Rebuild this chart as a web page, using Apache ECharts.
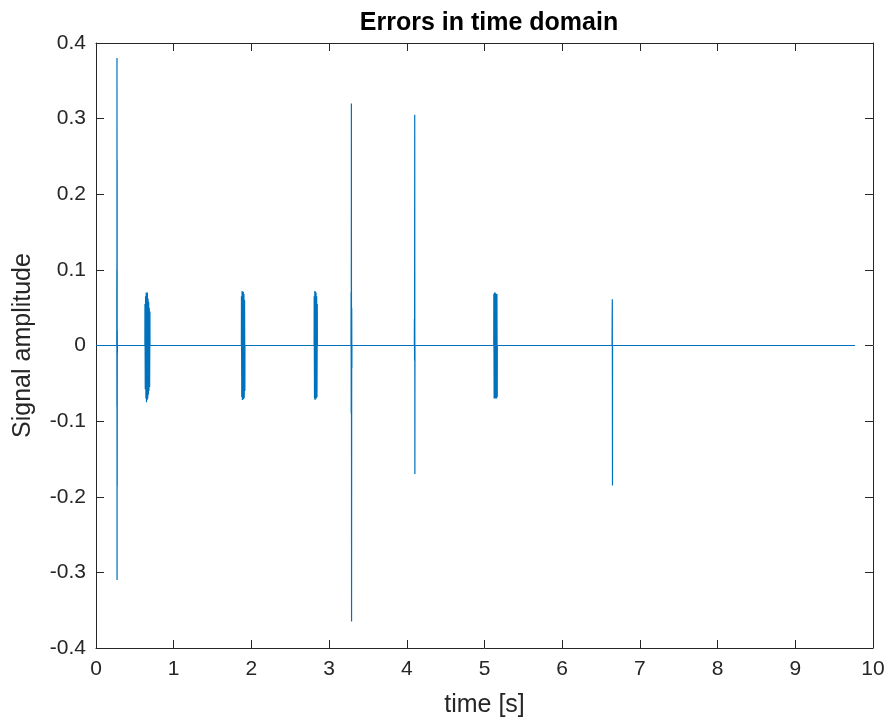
<!DOCTYPE html>
<html style="height: 100%">
   <head>
       <meta charset="utf-8">
   </head>
   <body style="height: 100%; margin: 0; background: #fff">
       <div id="container" style="width:889px;height:725px;"></div>
       <script src="https://cdn.jsdelivr.net/npm/echarts@6/dist/echarts.min.js"></script>
       <script type="text/javascript">
// error events: time [s] and amplitude
var spike1T = [0.268, 0.269, 0.270, 0.271, 0.272, 0.273, 0.274, 0.275];
var spike1A = [0.10, -0.08, 0.38, -0.31, 0.245, -0.185, 0.02, -0.01];

var burst1T = [0.630, 0.634, 0.638, 0.642, 0.646, 0.650, 0.654, 0.658, 0.662, 0.666, 0.670, 0.674, 0.678, 0.682, 0.686, 0.690, 0.694];
var burst1A = [0.055, -0.058, 0.065, -0.07, 0.07, -0.075, 0.068, -0.072, 0.07, -0.07, 0.062, -0.065, 0.058, -0.06, 0.05, -0.055, 0.045];

var burst2T = [1.872, 1.876, 1.880, 1.884, 1.888, 1.892, 1.896, 1.900, 1.904, 1.908, 1.912, 1.916];
var burst2A = [0.065, -0.068, 0.072, -0.072, 0.07, -0.07, 0.071, -0.071, 0.068, -0.069, 0.06, -0.06];

var burst3T = [2.808, 2.812, 2.816, 2.820, 2.824, 2.828, 2.832, 2.836, 2.840, 2.844, 2.848];
var burst3A = [0.065, -0.07, 0.072, -0.072, 0.071, -0.07, 0.07, -0.07, 0.065, -0.068, 0.055];

var spike2T = [3.283, 3.285, 3.287, 3.289, 3.291, 3.293];
var spike2A = [0.07, -0.09, 0.32, -0.365, 0.05, -0.03];

var spike3T = [4.098, 4.100, 4.102, 4.104];
var spike3A = [0.035, -0.02, 0.305, -0.17];

var burst4T = [5.120, 5.124, 5.128, 5.132, 5.136, 5.140, 5.144, 5.148, 5.152, 5.156, 5.160, 5.164];
var burst4A = [0.068, -0.07, 0.07, -0.07, 0.07, -0.07, 0.069, -0.07, 0.068, -0.07, 0.068, -0.068];

var spike4T = [6.643, 6.645, 6.647];
var spike4A = [0.035, 0.061, -0.185];

var endT = 9.77;

var xTicks = [0, 1, 2, 3, 4, 5, 6, 7, 8, 9, 10];
var yTicks = [-0.4, -0.3, -0.2, -0.1, 0, 0.1, 0.2, 0.3, 0.4];

function addEvent(arr, ts, as) {
    var first = ts[0], last = ts[ts.length - 1];
    arr.push([first - 0.001, 0]);
    for (var i = 0; i < ts.length; i++) arr.push([ts[i], as[i]]);
    arr.push([last + 0.001, 0]);
}

var data = [[0, 0]];
addEvent(data, spike1T, spike1A);
addEvent(data, burst1T, burst1A);
addEvent(data, burst2T, burst2A);
addEvent(data, burst3T, burst3A);
addEvent(data, spike2T, spike2A);
addEvent(data, spike3T, spike3A);
addEvent(data, burst4T, burst4A);
addEvent(data, spike4T, spike4A);
data.push([endT, 0]);

var axisColor = '#262626';
var font = 'Liberation Sans, Arial, sans-serif';

var dom = document.getElementById("container");
var myChart = echarts.init(dom, null, {renderer: 'canvas'});
var option = {
    animation: false,
    backgroundColor: '#fff',
    title: {
        text: 'Errors in time domain',
        left: 484,
        textAlign: 'center',
        top: 6,
        textStyle: {fontFamily: font, fontSize: 25, fontWeight: 'bold', color: '#000'}
    },
    grid: {left: 96, right: 16, top: 43, bottom: 77},
    xAxis: [{
        type: 'value',
        min: xTicks[0],
        max: xTicks[xTicks.length - 1],
        interval: 1,
        name: 'time [s]',
        nameLocation: 'middle',
        nameGap: 45,
        nameTextStyle: {fontFamily: font, fontSize: 25, color: axisColor},
        axisLine: {onZero: false, lineStyle: {color: axisColor, width: 1}},
        axisTick: {inside: true, length: 8, lineStyle: {color: axisColor}},
        axisLabel: {fontFamily: font, fontSize: 21, color: axisColor, margin: 11},
        splitLine: {show: false}
    }, {
        type: 'value',
        position: 'top',
        min: xTicks[0],
        max: xTicks[xTicks.length - 1],
        interval: 1,
        axisLine: {onZero: false, lineStyle: {color: axisColor, width: 1}},
        axisTick: {inside: true, length: 8, lineStyle: {color: axisColor}},
        axisLabel: {show: false},
        splitLine: {show: false}
    }],
    yAxis: [{
        type: 'value',
        min: yTicks[0],
        max: yTicks[yTicks.length - 1],
        interval: 0.1,
        name: 'Signal amplitude',
        nameLocation: 'middle',
        nameGap: 60,
        nameTextStyle: {fontFamily: font, fontSize: 25, color: axisColor},
        axisLine: {onZero: false, lineStyle: {color: axisColor, width: 1}},
        axisTick: {inside: true, length: 8, lineStyle: {color: axisColor}},
        axisLabel: {
            fontFamily: font, fontSize: 21, color: axisColor, margin: 10,
            formatter: function (v) { return String(Math.round(v * 10) / 10); }
        },
        splitLine: {show: false}
    }, {
        type: 'value',
        position: 'right',
        min: yTicks[0],
        max: yTicks[yTicks.length - 1],
        interval: 0.1,
        axisLine: {onZero: false, lineStyle: {color: axisColor, width: 1}},
        axisTick: {inside: true, length: 8, lineStyle: {color: axisColor}},
        axisLabel: {show: false},
        splitLine: {show: false}
    }],
    series: [{
        name: 'error',
        type: 'line',
        data: data,
        showSymbol: false,
        symbol: 'none',
        xAxisIndex: 0,
        yAxisIndex: 0,
        lineStyle: {color: '#0072BD', width: 1.2},
        itemStyle: {color: '#0072BD'}
    }]
};
myChart.setOption(option, true);
       </script>
   </body>
</html>
